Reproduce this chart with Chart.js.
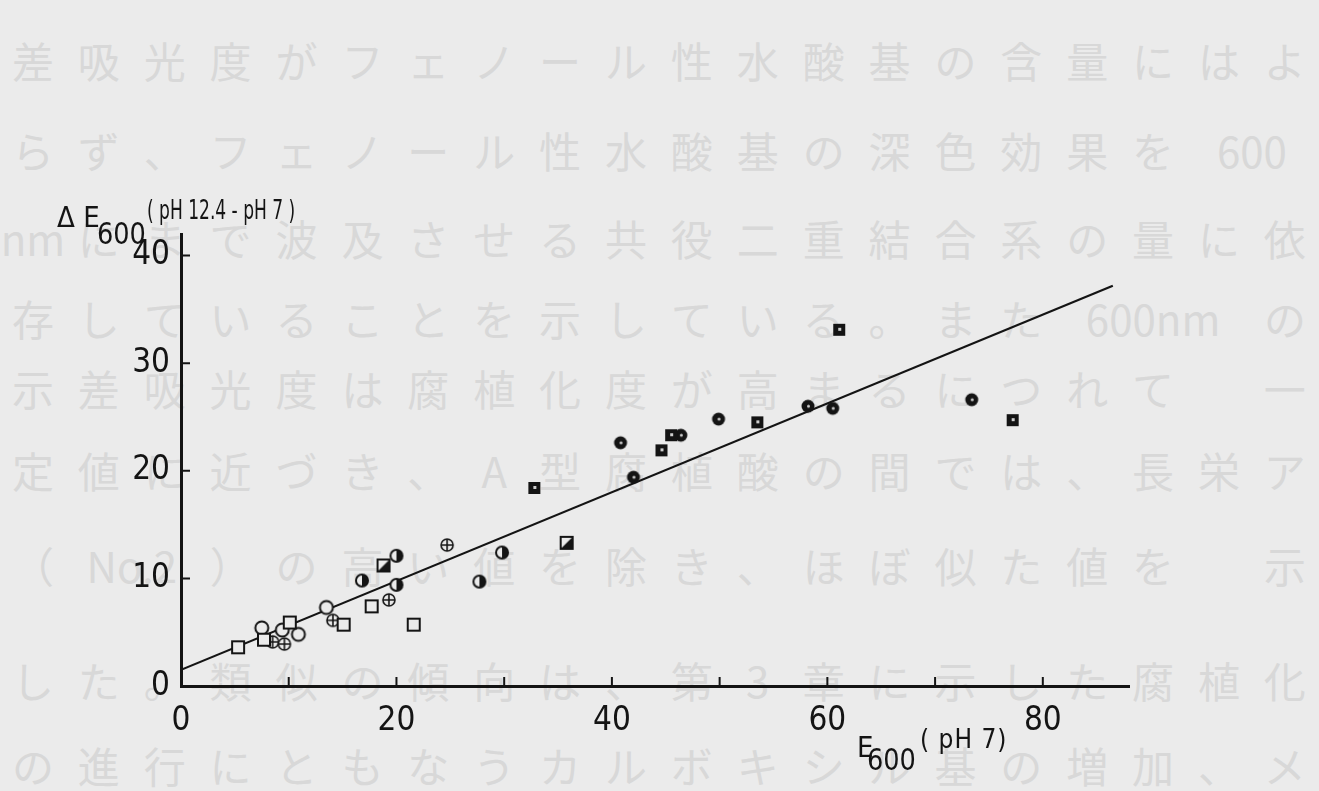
<!DOCTYPE html>
<html lang="ja">
<head>
<meta charset="utf-8">
<title>ΔE600 (pH 12.4 - pH 7) vs E600 (pH 7)</title>
<script src="https://cdn.jsdelivr.net/npm/chart.js@4.4.1/dist/chart.umd.min.js"></script>
<style>
  html, body { margin: 0; padding: 0; }
  body {
    width: 1319px; height: 791px; overflow: hidden; position: relative;
    background: #ebebeb;
  }
  .row {
    position: absolute; left: 0; height: 60px; line-height: 60px;
    white-space: nowrap; font-family: 'Noto Sans CJK JP', sans-serif;
    font-size: 42px; color: #d8d8d8;
  }
  .row span { display: inline-block; text-align: center; }
  #chart { position: absolute; left: 0; top: 0; z-index: 1; }
  .ttl {
    position: absolute; z-index: 2; color: #141414; white-space: nowrap; line-height: 1;
    font-family: 'DejaVu Sans Condensed', 'Liberation Sans Narrow', sans-serif;
    transform-origin: left top;
  }
</style>
</head>
<body>
<div id="paper"></div>
<canvas id="chart" width="1319" height="791"></canvas>

<!-- axis titles with the subscript 600 -->
<div class="ttl" style="left:57px; top:203px; font-size:29px;">Δ E</div>
<div class="ttl" style="left:97px; top:219px; font-size:30px; transform:scaleX(0.95);">600</div>
<div class="ttl" style="left:147px; top:197px; font-size:26px; transform:scaleX(0.73);">( pH 12.4 - pH 7 )</div>
<div class="ttl" style="left:857px; top:733px; font-size:29px;">E</div>
<div class="ttl" style="left:867px; top:745px; font-size:30px; transform:scaleX(0.95);">600</div>
<div class="ttl" style="left:920px; top:726px; font-size:26px; letter-spacing:1px;">( pH 7)</div>

<script>
const INK = '#141414';
const PAPER = '#ebebeb';

// faint manuscript text behind the figure
const pageRows = [
  '差吸光度がフェノール性水酸基の含量にはよ',
  'らず、フェノール性水酸基の深色効果を600',
  'nmにまで波及させる共役二重結合系の量に依',
  '存していることを示している。また600nmの',
  '示差吸光度は腐植化度が高まるにつれて　一',
  '定値に近づき、A型腐植酸の間では、長栄ア',
  '（No.2）の高い値を除き、ほぼ似た値を　示',
  'した。類似の傾向は、第3章に示した腐植化',
  'の進行にともなうカルボキシル基の増加、メ'
];
const pageRowY = [60, 150, 238, 318, 388, 470, 565, 680, 765];

// scale limits and ticks
const xMax = 88;
const yMax = 42;
const xLabelTicks = [0, 20, 40, 60, 80];
const yLabelTicks = [0, 10, 20, 30, 40];
const xMarkTicks = [10, 20, 30, 40, 50, 60, 70, 80];
const yMarkTicks = [10, 20, 30, 40];

// data, one pair of arrays per marker kind
const openSquareX = [5.3, 7.7, 10.1, 15.1, 17.7, 21.6];
const openSquareY = [3.6, 4.3, 5.9, 5.7, 7.4, 5.7];
const halfSquareX = [18.8, 35.8];
const halfSquareY = [11.2, 13.3];
const darkSquareX = [32.8, 44.6, 45.5, 53.5, 61.1, 77.2];
const darkSquareY = [18.4, 21.9, 23.3, 24.5, 33.1, 24.7];
const openCircleX = [7.5, 9.4, 10.9, 13.5];
const openCircleY = [5.4, 5.2, 4.8, 7.3];
const crossCircleX = [8.5, 9.6, 14.1, 19.3, 24.7];
const crossCircleY = [4.1, 3.9, 6.1, 8.0, 13.1];
const halfCircleX = [16.8, 20.0, 20.0, 27.7, 29.8];
const halfCircleY = [9.8, 12.1, 9.4, 9.7, 12.4];
const darkCircleX = [40.8, 42.0, 46.4, 49.9, 58.2, 60.5, 73.4];
const darkCircleY = [22.6, 19.4, 23.3, 24.8, 26.0, 25.8, 26.6];

// regression line end points
const fitX = [0, 86.5];
const fitY = [1.5, 37.2];

function pairs(xs, ys) {
  return xs.map((x, i) => ({ x: x, y: ys[i] }));
}

// background rows, one cell per full width character
const paper = document.getElementById('paper');
pageRows.forEach((text, r) => {
  const row = document.createElement('div');
  row.className = 'row';
  row.style.top = (pageRowY[r] - 30) + 'px';
  const tokens = text.match(/[A-Za-z0-9.]+|./g);
  tokens.forEach(t => {
    const s = document.createElement('span');
    s.textContent = t;
    const cells = /^[A-Za-z0-9.]+$/.test(t) ? Math.max(1, Math.ceil(t.length / 2)) : 1;
    s.style.width = (65.9 * cells) + 'px';
    row.appendChild(s);
  });
  paper.appendChild(row);
});

// hand drawn looking marker glyphs
function marker(kind) {
  const c = document.createElement('canvas');
  c.width = 18; c.height = 18;
  const g = c.getContext('2d');
  g.strokeStyle = INK;
  g.fillStyle = PAPER;
  g.lineWidth = 2;
  const m = 9;
  if (kind === 'openSquare') {
    g.fillRect(2, 2, 14, 14);
    g.strokeRect(3, 3, 12, 12);
  } else if (kind === 'halfSquare') {
    g.fillRect(2, 2, 14, 14);
    g.strokeRect(3, 3, 12, 12);
    g.fillStyle = INK;
    g.beginPath();
    g.moveTo(15, 3); g.lineTo(15, 15); g.lineTo(3, 15);
    g.closePath(); g.fill();
  } else if (kind === 'darkSquare') {
    g.fillStyle = INK;
    g.fillRect(3, 3, 12, 12);
    g.fillStyle = '#cfcfcf';
    g.fillRect(8, 7, 3, 3);
  } else if (kind === 'openCircle') {
    g.beginPath(); g.arc(m, m, 6.5, 0, Math.PI * 2);
    g.fill(); g.stroke();
  } else if (kind === 'crossCircle') {
    g.lineWidth = 1.6;
    g.beginPath(); g.arc(m, m, 6, 0, Math.PI * 2);
    g.fill(); g.stroke();
    g.beginPath();
    g.moveTo(m - 6, m); g.lineTo(m + 6, m);
    g.moveTo(m, m - 6); g.lineTo(m, m + 6);
    g.stroke();
  } else if (kind === 'halfCircle') {
    g.beginPath(); g.arc(m, m, 6, 0, Math.PI * 2);
    g.fill(); g.stroke();
    g.fillStyle = INK;
    g.beginPath(); g.arc(m, m, 6, -Math.PI / 2, Math.PI / 2);
    g.closePath(); g.fill();
  } else if (kind === 'darkCircle') {
    g.fillStyle = INK;
    g.beginPath(); g.arc(m, m, 6.5, 0, Math.PI * 2); g.fill();
    g.fillStyle = '#cfcfcf';
    g.beginPath(); g.arc(m + 0.5, m, 1.5, 0, Math.PI * 2); g.fill();
  }
  return c;
}

function markerSet(label, kind, xs, ys) {
  return {
    label: label,
    data: pairs(xs, ys),
    pointStyle: marker(kind),
    pointRadius: 8,
    order: 0
  };
}

// inward tick marks on both axes
const innerTicks = {
  id: 'innerTicks',
  afterDatasetsDraw(chart) {
    const { ctx, chartArea, scales } = chart;
    ctx.save();
    ctx.strokeStyle = INK;
    ctx.lineWidth = 2;
    ctx.beginPath();
    yMarkTicks.forEach(v => {
      const py = scales.y.getPixelForValue(v);
      ctx.moveTo(chartArea.left, py);
      ctx.lineTo(chartArea.left + 9, py);
    });
    xMarkTicks.forEach(v => {
      const px = scales.x.getPixelForValue(v);
      ctx.moveTo(px, chartArea.bottom);
      ctx.lineTo(px, chartArea.bottom - 9);
    });
    ctx.stroke();
    ctx.restore();
  }
};

const tickFont = { family: "'DejaVu Sans Condensed', 'Liberation Sans Narrow', sans-serif", size: 33 };

const ctx = document.getElementById('chart').getContext('2d');
new Chart(ctx, {
  type: 'scatter',
  data: {
    datasets: [
      markerSet('open square', 'openSquare', openSquareX, openSquareY),
      markerSet('half square', 'halfSquare', halfSquareX, halfSquareY),
      markerSet('dark square', 'darkSquare', darkSquareX, darkSquareY),
      markerSet('open circle', 'openCircle', openCircleX, openCircleY),
      markerSet('cross circle', 'crossCircle', crossCircleX, crossCircleY),
      markerSet('half circle', 'halfCircle', halfCircleX, halfCircleY),
      markerSet('dark circle', 'darkCircle', darkCircleX, darkCircleY),
      {
        type: 'line',
        label: 'fit',
        data: pairs(fitX, fitY),
        borderColor: INK,
        borderWidth: 2.2,
        pointRadius: 0,
        fill: false,
        order: 10
      }
    ]
  },
  options: {
    responsive: false,
    animation: false,
    events: [],
    layout: { padding: { left: 0, right: 190, top: 234, bottom: 0 } },
    plugins: { legend: { display: false }, tooltip: { enabled: false } },
    scales: {
      x: {
        type: 'linear',
        min: 0, max: xMax,
        grid: { display: false, drawTicks: false },
        border: { display: true, color: INK, width: 3 },
        afterFit: s => { s.height = 105; },
        afterBuildTicks: s => { s.ticks = xLabelTicks.map(v => ({ value: v })); },
        ticks: { color: INK, font: tickFont, padding: 16, maxRotation: 0, autoSkip: false }
      },
      y: {
        type: 'linear',
        min: 0, max: yMax,
        grid: { display: false, drawTicks: false },
        border: { display: true, color: INK, width: 3 },
        afterFit: s => { s.width = 181; },
        afterBuildTicks: s => { s.ticks = yLabelTicks.map(v => ({ value: v })); },
        ticks: { color: INK, font: tickFont, padding: 11 }
      }
    }
  },
  plugins: [innerTicks]
});
</script>
</body>
</html>
